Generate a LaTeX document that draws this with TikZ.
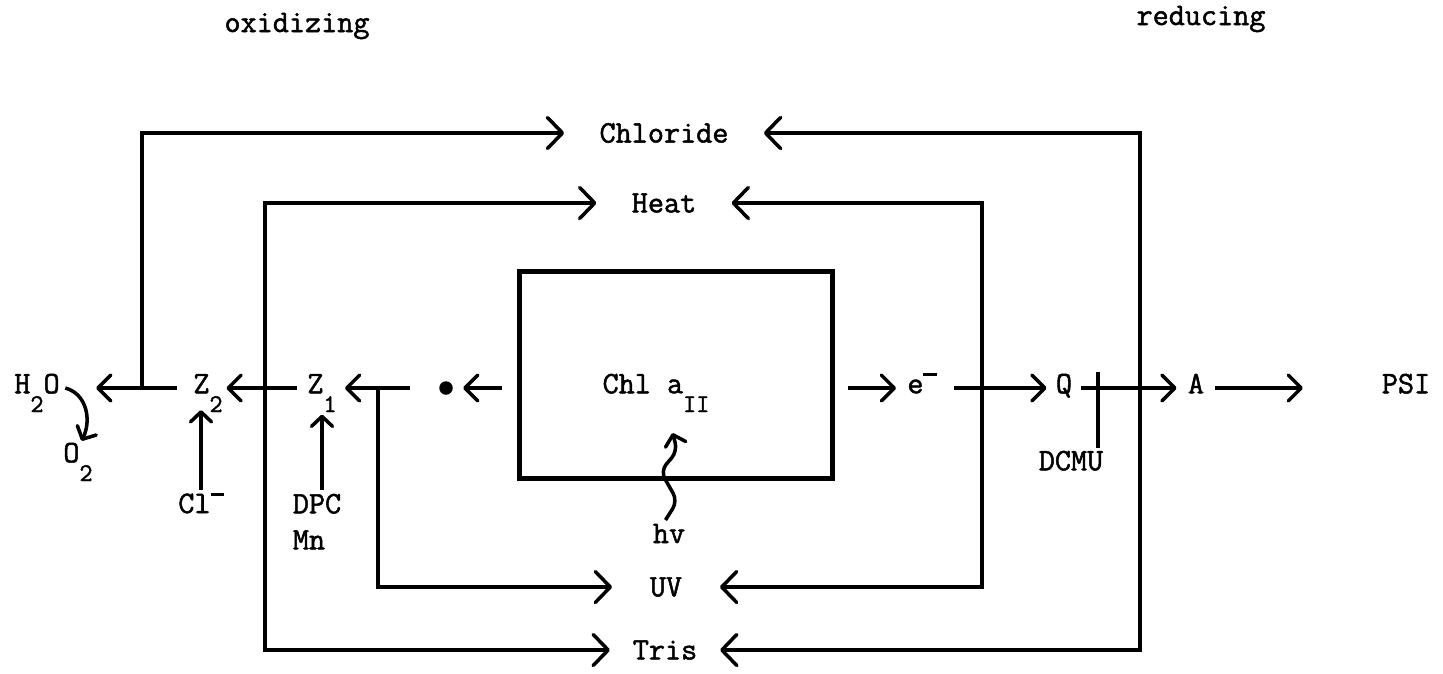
\documentclass[tikz,border=0pt]{standalone}
\usepackage{fontspec}
\setmonofont{Latin Modern Mono}[AutoFakeBold=1.6]
\usetikzlibrary{arrows.meta,calc}

\newcommand{\lowsub}[1]{\raisebox{-0.6em}[0pt][0pt]{\fontsize{14.5}{16}\selectfont #1}}
\newcommand{\highsup}[1]{\raisebox{0.55em}[0pt][0pt]{#1}}
\newcommand{\negsign}{\rule{0.42em}{0.09em}}

\begin{document}
\begin{tikzpicture}[x=0.02cm, y=-0.02cm,
  font=\ttfamily\bfseries\fontsize{17.8}{20.5}\selectfont,
  every node/.append style={inner sep=2pt},
  species/.style={text height=0.6em, text depth=0pt},
  treat/.style={inner ysep=2pt},
  flow/.style={-{Straight Barb[round, length=0.26cm, width=0.52cm]}, line width=2pt},
  ring/.style={-{Straight Barb[round, length=0.3cm, width=0.62cm]}, line width=2pt},
  small/.style={-{Straight Barb[round, length=0.2cm, width=0.42cm]}, line width=2pt},
  wire/.style={line width=2pt},
]
\useasboundingbox (0,0) rectangle (1443,673);

% === headings ===
\node[anchor=base] (oxid) at (297,32) {oxidizing};
\node[anchor=base] (redu) at (1201,25) {reducing};

% === electron transport chain ===
\node[species] (h2o) at (37,388) {H\lowsub{2}O};
\node[species] (o2) at (78,457) {O\lowsub{2}};
\node[species] (z2) at (208,388) {Z\lowsub{2}};
\node[species] (z1) at (322,388) {Z\lowsub{1}};
\node[circle, fill, inner sep=0pt, minimum size=0.27cm] (hole) at (446,388) {};
\node[draw, line width=2.6pt, minimum width=6.26cm, minimum height=4.14cm] (psii) at (676,375) {};
\node[species] (chla) at (656,388) {Chl a\lowsub{II}};
\node[species] (elec) at (922,388) {e\highsup{\negsign}};
\node[species] (q) at (1064,388) {Q};
\node[species] (a) at (1196,388) {A};
\node[species] (psi) at (1406,388) {PSI};

% === inputs and inhibitor ===
\node[anchor=base] (cl) at (201,513) {Cl\highsup{\negsign}};
\node[anchor=north west, align=left] (dpc) at (289,490) {DPC\\Mn};
\node[anchor=base] (hv) at (669,543) {hv};
\node[species] (dcmu) at (1071,465) {DCMU};

% === treatments ===
\node[treat, inner xsep=0.7cm] (chlor) at (664,133) {Chloride};
\node[treat, inner xsep=0.7cm] (heat) at (664,203) {Heat};
\node[treat, inner xsep=0.75cm] (uv) at (666,587) {UV};
\node[treat, inner xsep=0.45cm] (tris) at (665,650) {Tris};

% branch points on the chain
\coordinate (clx) at (142,388);
\coordinate (hx) at (265,388);
\coordinate (ux) at (378,388);
\coordinate (hux) at (982,388);
\coordinate (ctx) at (1140,388);
\coordinate (blk) at (1098,372);

% === electron flow ===
\draw[flow, shorten <=0.25cm, shorten >=0.65cm] (z2) -- (h2o);
\draw[flow, shorten <=0.13cm] (z1) -- (z2);
\draw[flow, shorten <=0.58cm, shorten >=0.09cm] (hole) -- (z1);
\draw[flow, shorten <=0.3cm, shorten >=0.2cm] (psii.west |- hole) -- (hole);
\draw[flow, shorten <=0.26cm, shorten >=0.15cm] (psii.east |- elec) -- (elec);
\draw[flow, shorten <=0.27cm, shorten >=0.11cm] (elec) -- (q);
\draw[flow, shorten <=0.11cm, shorten >=0.15cm] (q) -- (a);
\draw[flow, shorten <=0.15cm, shorten >=1.5cm] (a) -- (psi);

\draw[small] ([xshift=1pt]h2o.east) .. controls +(22,6) and +(10,-20) .. ([xshift=2pt,yshift=4pt]o2.north);
\draw[small, shorten >=0.26cm] (cl.north) -- (cl.north |- z2.south);
\draw[small, shorten >=0.35cm] (dpc.north -| z1.south) -- (z1.south);
\draw[small, rounded corners=5pt] ([xshift=-2pt]hv.north) -- ++(12,-19) -- ++(-17,-30) -- ++(17,-20) -- ++(-5,-18);
\draw[wire, shorten >=0.15cm] (blk) -- (blk |- dcmu.north);

% === treatment loops ===
\draw[ring] (clx) |- (chlor.west);
\draw[ring] (ctx) |- (chlor.east);
\draw[ring] (hx) |- (heat.west);
\draw[ring] (hux) |- (heat.east);
\draw[ring] (ux) |- (uv.west);
\draw[ring] (hux) |- (uv.east);
\draw[ring] (hx) |- (tris.west);
\draw[ring] (ctx) |- (tris.east);
\end{tikzpicture}
\end{document}
